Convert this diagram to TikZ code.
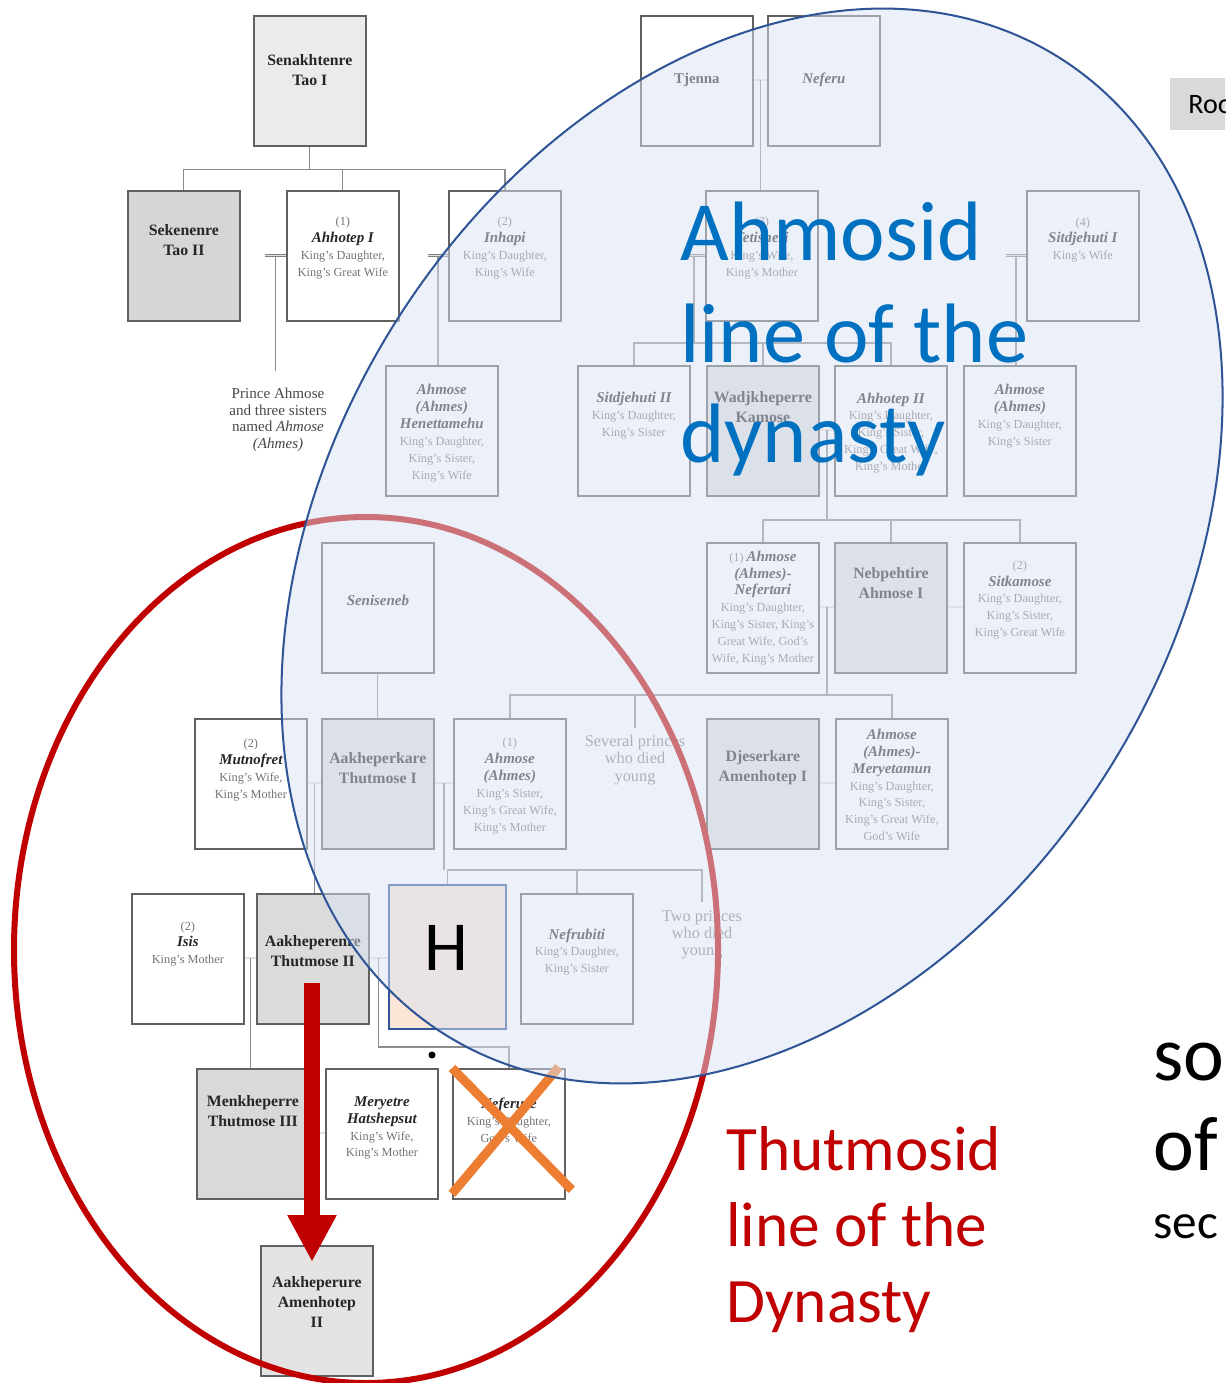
\documentclass[tikz,border=0pt]{standalone}
\usepackage{fontspec}
\setmainfont{Liberation Serif}
\newfontfamily\calib{Carlito}
\usetikzlibrary{calc,arrows.meta}
\definecolor{ahblue}{HTML}{0070C0}
\definecolor{navyl}{HTML}{2F5597}
\definecolor{dred}{HTML}{C00000}
\definecolor{xorange}{HTML}{ED7D31}
\definecolor{peach}{HTML}{FBE5D6}
\definecolor{tint}{HTML}{DAE3F3}
\newcommand{\pnam}[1]{{\fontsize{8.5}{9.6}\selectfont\bfseries\itshape\color{black!85}#1}}
\newcommand{\pbld}[1]{{\fontsize{8.5}{9.6}\selectfont\bfseries\color{black!85}#1}}
\tikzset{
 pbox/.style={draw=black!62, line width=1pt, minimum width=22.4mm, minimum height=26mm, inner sep=0pt},
 ptext/.style={align=center, font=\fontsize{7}{9.6}\selectfont, text=black!55, inner sep=0pt},
 ktext/.style={align=center, font=\fontsize{9}{11.3}\selectfont\bfseries, text=black!85, inner sep=0pt},
 ntext/.style={align=center, font=\fontsize{9.3}{9.8}\selectfont, text=black!50, inner sep=0pt},
 conn/.style={draw=black!45, line width=0.7pt},
 mline/.style={draw=black!50, line width=0.45pt, double=black!12, double distance=0.7pt},
 bigblue/.style={anchor=base west, text=ahblue, font=\calib\fontsize{48}{58}\selectfont, inner sep=0pt},
 bigred/.style={anchor=base west, text=dred, font=\calib\fontsize{36}{43}\selectfont, inner sep=0pt},
 bigblack/.style={anchor=base west, text=black, font=\calib\fontsize{44}{52}\selectfont, inner sep=0pt},
}
\newcommand{\mkperson}[6]{\node[pbox, fill=#4, anchor=north west] (#1) at (#2,#3) {};
 \path (#1.north) ++(0,#5) node[ptext] (#1-t) {#6};}
\newcommand{\mkking}[6]{\node[pbox, fill=#4, anchor=north west] (#1) at (#2,#3) {};
 \path (#1.north) ++(0,#5) node[ktext] (#1-t) {#6};}
\newcommand{\mkmarr}[3]{\draw[mline] ($(#1.north east)+(0,65)$) -- ($(#2.north west)+(0,65)$) coordinate[pos=0.5] (#3);}
\begin{document}
\begin{tikzpicture}[x=0.2mm,y=-0.2mm]
\useasboundingbox (0,0) rectangle (1225,1383);
\clip (0,0) rectangle (1225,1383);
\fill[white] (0,0) rectangle (1225,1383);

% ---------- row 0
\mkking{sen}{253}{15}{black!8}{55}{Senakhtenre\\Tao I}
\mkperson{tje}{640}{15}{white}{65}{\pbld{Tjenna}}
\mkperson{nfu}{767}{15}{white}{65}{\pnam{Neferu}}
\mkmarr{tje}{nfu}{tjm}
% ---------- row 1
\mkking{sek}{127}{190}{black!16}{50}{Sekenenre\\Tao II}
\mkperson{ah1}{286}{190}{white}{58}{(1)\\\pnam{Ahhotep I}\\King's Daughter,\\King's Great Wife}
\mkperson{inh}{448}{190}{white}{58}{(2)\\\pnam{Inhapi}\\King's Daughter,\\King's Wife}
\mkperson{tet}{705}{190}{white}{58}{(3)\\\pnam{Tetisheri}\\King's Wife,\\King's Mother}
\mkperson{sd1}{1026}{190}{white}{50}{(4)\\\pnam{Sitdjehuti I}\\King's Wife}
\draw[conn] (sen.south) -- ++(0,23) coordinate (r1);
\draw[conn] (sek.north) |- (r1) -| (inh.north);
\draw[conn] (ah1.north) -- (ah1.north |- r1);
\draw[conn] (tjm) -- (tjm |- tet.north);
\draw[mline] ($(ah1.west)+(-21,0)$) -- (ah1.west) coordinate[pos=0.5] (m1);
\draw[mline] ($(inh.west)+(-20,0)$) -- (inh.west) coordinate[pos=0.5] (m2);
\draw[mline] ($(tet.west)+(-22,0)$) -- (tet.west) coordinate[pos=0.5] (m3);
\draw[mline] ($(sd1.west)+(-20,0)$) -- (sd1.west) coordinate[pos=0.5] (m4);
% ---------- row 2
\node[ntext, text=black!72, font=\fontsize{8.6}{9.4}\selectfont] (pra) at (278,420) {Prince Ahmose\\and three sisters\\named \textit{Ahmose}\\\textit{(Ahmes)}};
\mkperson{hen}{385}{365}{white}{68}{\pnam{Ahmose}\\\pnam{(Ahmes)}\\\pnam{Henettamehu}\\King's Daughter,\\King's Sister,\\King's Wife}
\mkperson{sd2}{577}{365}{white}{51}{\pnam{Sitdjehuti II}\\King's Daughter,\\King's Sister}
\mkking{kam}{706}{365}{black!12}{42}{Wadjkheperre\\Kamose}
\mkperson{ah2}{834}{365}{white}{68}{\pnam{Ahhotep II}\\King's Daughter,\\King's Sister,\\King's Great Wife,\\King's Mother}
\mkperson{ahm}{963}{365}{white}{51}{\pnam{Ahmose}\\\pnam{(Ahmes)}\\King's Daughter,\\King's Sister}
\draw[conn] (m1) -- ([yshift=3.4mm]m1 |- pra.north);
\draw[conn] (m2) -- (m2 |- hen.north);
\draw[conn] (sd2.north) -- ++(0,-22) coordinate (r2) -| (ah2.north);
\draw[conn] (m3) -- (m3 |- r2);
\draw[conn] (kam.north) -- (kam.north |- r2);
\draw[conn] (m4) -- (m4 |- ahm.north);
\mkmarr{kam}{ah2}{m5}
% ---------- row 3
\mkperson{ssb}{321}{542}{white}{58}{\pnam{Seniseneb}}
\mkperson{nft}{706}{542}{white}{66}{(1) \pnam{Ahmose}\\\pnam{(Ahmes)-}\\\pnam{Nefertari}\\King's Daughter,\\King's Sister, King's\\Great Wife, God's\\Wife, King's Mother}
\mkking{neb}{834}{542}{black!12}{41}{Nebpehtire\\Ahmose I}
\mkperson{skm}{963}{542}{white}{58}{(2)\\\pnam{Sitkamose}\\King's Daughter,\\King's Sister,\\King's Great Wife}
\draw[conn] (nft.north) -- ++(0,-22) coordinate (r3) -| (skm.north);
\draw[conn] (m5) -- (m5 |- r3);
\draw[conn] (neb.north) -- (neb.north |- r3);
\mkmarr{nft}{neb}{m6}
\mkmarr{neb}{skm}{m6b}
% ---------- row 4
\mkperson{mut}{194}{718}{white}{52}{(2)\\\pnam{Mutnofret}\\King's Wife,\\King's Mother}
\mkking{tm1}{321}{718}{black!12}{50}{Aakheperkare\\Thutmose I}
\mkperson{ah3}{453}{718}{white}{68}{(1)\\\pnam{Ahmose}\\\pnam{(Ahmes)}\\King's Sister,\\King's Great Wife,\\King's Mother}
\node[ntext] (spr) at (635,760) {Several princes\\who died\\young};
\mkking{am1}{706}{718}{black!12}{50}{Djeserkare\\Amenhotep I}
\mkperson{mer}{835}{718}{white}{67}{\pnam{Ahmose}\\\pnam{(Ahmes)-}\\\pnam{Meryetamun}\\King's Daughter,\\King's Sister,\\King's Great Wife,\\God's Wife}
\draw[conn] (ssb.south) -- (tm1.north);
\draw[conn] (ah3.north) -- ++(0,-23) coordinate (r4) -| (mer.north);
\draw[conn] (m6) -- (m6 |- r4);
\draw[conn] (spr.north |- r4) -- ([yshift=1.4mm]spr.north);
\mkmarr{mut}{tm1}{m7}
\mkmarr{tm1}{ah3}{m8}
\mkmarr{am1}{mer}{m8b}
% ---------- row 5
\mkperson{isi}{131}{893}{white}{51}{(2)\\\pnam{Isis}\\King's Mother}
\mkking{tm2}{256}{893}{black!14}{58}{Aakheperenre\\Thutmose II}
\node[draw=navyl, line width=1.3pt, fill=peach, minimum width=23.4mm, minimum height=28.8mm, inner sep=0pt, anchor=north west] (hb) at (388,884) {};
\mkperson{nrb}{520}{893}{white}{59}{\pnam{Nefrubiti}\\King's Daughter,\\King's Sister}
\node[ntext] (tpr) at (702,935) {Two princes\\who died\\young};
\draw[conn] (m7) -- (m7 |- tm2.north);
\draw[conn] (hb.north) -- ++(0,-14) coordinate (r5) -| ([yshift=1.6mm]tpr.north);
\draw[conn] (m8) -- (m8 |- r5);
\draw[conn] (nrb.north) -- (nrb.north |- r5);
\draw[mline] ($(isi.north east)+(0,65)$) -- ($(tm2.north west)+(0,65)$) coordinate[pos=0.5] (m9);
\draw[mline] ($(tm2.north east)+(0,65)$) -- ($(hb.north west)+(0,74)$) coordinate[pos=0.5] (m10);
% ---------- row 6
\mkking{tm3}{196}{1068}{black!15}{43}{Menkheperre\\Thutmose III}
\mkperson{mhs}{325}{1068}{white}{60}{\pnam{Meryetre}\\\pnam{Hatshepsut}\\King's Wife,\\King's Mother}
\mkperson{nfr}{452}{1068}{white}{52}{\pnam{Neferure}\\King's Daughter,\\God's Wife}
\draw[conn] (m9) -- (m9 |- tm3.north);
\draw[conn] (m10) |- ($(nfr.north)+(0,-21)$) -- (nfr.north);
\mkmarr{tm3}{mhs}{m11}
\node[circle, fill=black, inner sep=0pt, minimum size=1.4mm] (dot) at (432,1055) {};
% ---------- row 7
\mkking{am2}{260}{1245}{black!11}{57}{Aakheperure\\Amenhotep\\II}
\draw[conn] (m11) -- (m11 |- am2.north);

% ---------- overlays below the blue ellipse
\draw[xorange, line width=1.8mm] (nfr.north west) -- ($(nfr.south east)+(6,-10)$);
\draw[xorange, line width=1.8mm] ($(nfr.north east)+(-7,-1)$) -- ($(nfr.south west)+(0,-6)$);
\draw[dred, line width=1.2mm] (366,950) ellipse [x radius=352, y radius=433];
\coordinate (ars) at (312,983);
\coordinate (are) at (312,1262);
\draw[dred, line width=3.2mm, -{Triangle[length=9.4mm,width=9.2mm]}] (ars) -- (are);

% ---------- blue ellipse
\fill[tint, fill opacity=0.5, rotate around={57.8:(752,546)}] (752,546) ellipse [x radius=577, y radius=421];
\draw[navyl, line width=1.15pt, rotate around={57.8:(752,546)}] (752,546) ellipse [x radius=577, y radius=421];

% ---------- texts on top
\node[font=\calib\fontsize{40}{48}\selectfont, inner sep=0pt] (htx) at (446,948) {H};
\node[bigblue] (a1) at (680,260) {Ahmosid};
\node[bigblue] (a2) at (680,362) {line of the};
\node[bigblue] (a3) at (680,462) {dynasty};
\node[bigred] (b1) at (726,1170) {Thutmosid};
\node[bigred] (b2) at (726,1246) {line of the};
\node[bigred] (b3) at (726,1322) {Dynasty};
\node[fill=black!15, anchor=north west, minimum height=10.4mm, inner xsep=3.6mm, inner ysep=0pt, font=\calib\fontsize{16}{20}\selectfont] (roo) at (1170,78) {Roo};
\node[bigblack] (c1) at (1153,1080) {so};
\node[bigblack] (c2) at (1153,1170) {of};
\node[anchor=base west, font=\calib\fontsize{28}{34}\selectfont, inner sep=0pt] (c3) at (1153,1238) {sec};
\end{tikzpicture}
\end{document}
